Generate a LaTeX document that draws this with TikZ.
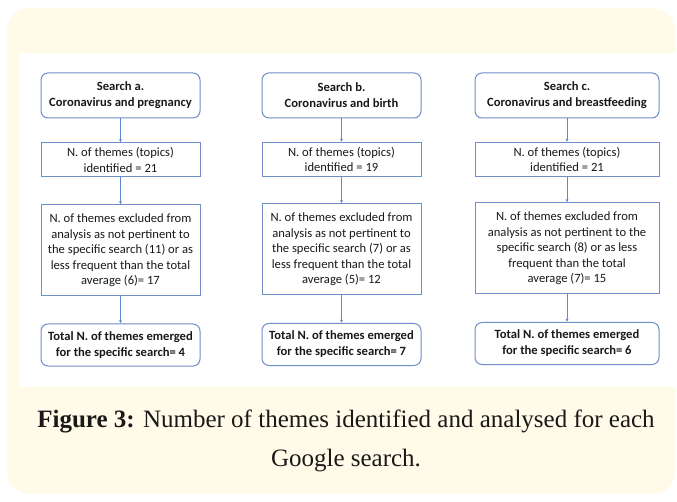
\documentclass[tikz,border=0pt]{standalone}
\usepackage{fontspec}
\setmainfont{Carlito}
\newfontfamily\capfont{Liberation Serif}
\usepackage{tikz}
\usetikzlibrary{arrows.meta, positioning}
\definecolor{edgeblue}{RGB}{112, 142, 200}
\definecolor{arrowblue}{RGB}{95, 135, 210}
\definecolor{creambg}{RGB}{255, 251, 232}
\definecolor{inktext}{RGB}{25, 25, 25}
\tikzset{
    box/.style    ={draw=edgeblue, line width=1pt, fill=white, text=inktext,
                    align=center, inner sep=2pt,
                    font=\fontsize{12.6}{15.4}\selectfont},
    srch/.style   ={box, rounded corners=7pt, minimum height=45pt,
                    font=\fontsize{12.6}{16}\selectfont\bfseries},
    cnt/.style    ={box, minimum height=34pt},
    excl/.style   ={box, minimum height=91pt},
    tot/.style    ={srch, minimum height=42pt},
    ar/.style     ={-{Latex[length=3pt, width=3pt]}, line width=0.6pt, draw=arrowblue}
}

\begin{document}
\begin{tikzpicture}[x=1pt, y=-1pt]
  \useasboundingbox (0,0) rectangle (677,502);
  \fill[creambg, rounded corners=22pt] (7,8) rectangle (675,494);
  \fill[white] (19,53) rectangle (677,387);

  % search a
  \node[srch, minimum width=159pt] (sa) at (120.5,95.5)
       {Search a.\\ Coronavirus and pregnancy};
  \node[cnt, minimum width=159pt] (ta) at (120.5,160)
       {N. of themes (topics)\\ identified = 21};
  \node[excl, minimum width=159pt] (ea) at (120.5,250.5)
       {N. of themes excluded from\\ analysis as not pertinent to\\ the specific search (11) or as\\ less frequent than the total\\ average (6)= 17};
  \node[tot, minimum width=159pt] (oa) at (120.5,345)
       {Total N. of themes emerged\\ for the specific search= 4};

  % search b
  \node[srch, minimum width=159pt] (sb) at (341.5,95.5)
       {Search b.\\ Coronavirus and birth};
  \node[cnt, minimum width=159pt] (tb) at (341.5,159.5)
       {N. of themes (topics)\\ identified = 19};
  \node[excl, minimum width=159pt] (eb) at (341.5,249.5)
       {N. of themes excluded from\\ analysis as not pertinent to\\ the specific search (7) or as\\ less frequent than the total\\ average (5)= 12};
  \node[tot, minimum width=159pt] (ob) at (341.5,344.5)
       {Total N. of themes emerged\\ for the specific search= 7};

  % search c
  \node[srch, minimum width=184pt] (sc) at (567,95.5)
       {Search c.\\ Coronavirus and breastfeeding};
  \node[cnt, minimum width=184pt] (tc) at (567,159.5)
       {N. of themes (topics)\\ identified = 21};
  \node[excl, minimum width=184pt] (ec) at (567,248.5)
       {N. of themes excluded from\\ analysis as not pertinent to the\\ specific search (8) or as less\\ frequent than the total\\ average (7)= 15};
  \node[tot, minimum width=184pt] (oc) at (567,343.5)
       {Total N. of themes emerged\\ for the specific search= 6};

  \foreach \c in {a,b,c}{
    \draw[ar] (s\c) -- (t\c);
    \draw[ar] (t\c) -- (e\c);
    \draw[ar] (e\c) -- (o\c);
  }

  \node[text=inktext, align=center, font=\capfont\fontsize{25}{39}\selectfont]
       (cap) at (346,441)
       {\textbf{Figure 3:} Number of themes identified and analysed for each\\ Google search.};
\end{tikzpicture}
\end{document}
